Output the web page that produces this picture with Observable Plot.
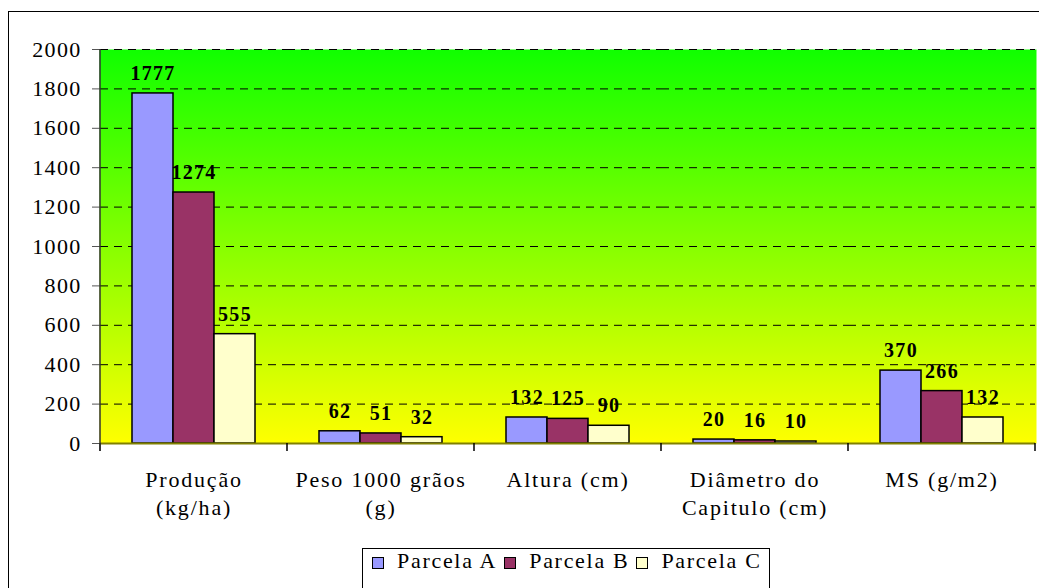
<!DOCTYPE html>
<html>
<head>
<meta charset="utf-8">
<script src="https://cdn.jsdelivr.net/npm/d3@7"></script>
<script src="https://cdn.jsdelivr.net/npm/@observablehq/plot@0.6"></script>
<style>
html, body { margin: 0; padding: 0; background: #fff; width: 1039px; height: 588px; overflow: hidden; }
#wrap { position: relative; width: 1039px; height: 588px; overflow: hidden; font-family: "Liberation Serif", "Times New Roman", Times, serif; }
#border { position: absolute; left: 8px; top: 11px; width: 1200px; height: 800px; border: 1.5px solid #000; box-sizing: border-box; }
#chart { position: absolute; left: 0; top: 0; }
#chart svg, #chart svg text { font-family: "Liberation Serif", "Times New Roman", Times, serif !important; }
#chart svg text { letter-spacing: 1.3px; }
#chart svg g[aria-label="fx-axis tick label"] text { letter-spacing: 1.8px; }
#legend { position: absolute; left: 362px; top: 548px; width: 408px; height: 80px; border: 1px solid #000; box-sizing: border-box; background: #fff;
  font-size: 22px; line-height: 24px; padding-left: 9px; white-space: nowrap; letter-spacing: 1.7px; color: #000; }
#legend .item { display: inline-block; margin-right: 7px; }
#legend .sw { display: inline-block; width: 12px; height: 12px; border: 1px solid #000; box-sizing: border-box; vertical-align: -1px; margin-right: 13px; }
</style>
</head>
<body>
<svg width="0" height="0" style="position:absolute">
  <defs>
    <linearGradient id="bg" x1="0" y1="0" x2="0" y2="1">
      <stop offset="0" stop-color="#10ff00"/>
      <stop offset="1" stop-color="#ffff00"/>
    </linearGradient>
  </defs>
</svg>
<div id="wrap">
  <div id="border"></div>
  <div id="chart"></div>
  <div id="legend"></div>
</div>
<script>
const categories = ["Produção\n(kg/ha)", "Peso 1000 grãos\n(g)", "Altura (cm)", "Diâmetro do\nCapitulo (cm)", "MS (g/m2)"];
const series = ["Parcela A", "Parcela B", "Parcela C"];
const parcelaA = [1777, 62, 132, 20, 370];
const parcelaB = [1274, 51, 125, 16, 266];
const parcelaC = [555, 32, 90, 10, 132];
const seriesColors = ["#9999ff", "#993366", "#ffffcc"];
const yTicks = [0, 200, 400, 600, 800, 1000, 1200, 1400, 1600, 1800, 2000];

const seriesValues = [parcelaA, parcelaB, parcelaC];
const data = categories.flatMap((c, i) =>
  seriesValues.map((vals, j) => ({category: c, series: series[j], value: vals[i]}))
);

const chart = Plot.plot({
  width: 1039,
  height: 540,
  marginTop: 49,
  marginBottom: 97,
  marginLeft: 100,
  marginRight: 4,
  style: {fontSize: "22px", color: "#000", background: "transparent", overflow: "visible"},
  fx: {domain: categories, padding: 0, label: null},
  x: {domain: series, paddingInner: 0, paddingOuter: 0.765, axis: null},
  y: {domain: [0, 2000]},
  color: {domain: series, range: seriesColors},
  marks: [
    Plot.frame({fill: "url(#bg)", stroke: "none", insetLeft: -1, insetRight: -1}),
    Plot.ruleY(yTicks.filter(d => d > 0), {stroke: "#000", strokeDasharray: "8,6", strokeWidth: 1}),
    Plot.barY(data, {fx: "category", x: "series", y: "value", fill: "series", stroke: "#000", strokeWidth: 1.5}),
    Plot.ruleY([0], {stroke: "#808000", strokeWidth: 2}),
    Plot.text(data, {fx: "category", x: "series", y: "value", text: d => String(d.value), dy: -20, fontWeight: "bold", fontSize: 20, fill: "#000"}),
    Plot.axisY({ticks: yTicks, tickSize: 8, tickPadding: 11, fontSize: 22, tickFormat: d3.format("d"), label: null, stroke: "#555", fill: "#000"}),
    Plot.axisFx({anchor: "bottom", tickSize: 0, tickPadding: 23, fontSize: 22, lineHeight: 1.3, label: null, fill: "#000"})
  ]
});

// axis decorations from the library's scales
const fx = chart.scale("fx");
const ys = chart.scale("y");
const [yBottom, yTop] = ys.range;
const svg = d3.select(chart);
const deco = svg.append("g");
const edges = d3.range(fx.domain.length + 1).map(i => fx.range[0] + i * fx.step);
deco.selectAll("line.tk").data(edges).join("line")
  .attr("x1", d => d).attr("x2", d => d)
  .attr("y1", yBottom).attr("y2", yBottom + 8)
  .attr("stroke", "#000").attr("stroke-width", 1.5);
deco.append("line")
  .attr("x1", fx.range[0]).attr("x2", fx.range[0])
  .attr("y1", yTop).attr("y2", yBottom + 8)
  .attr("stroke", "#333").attr("stroke-width", 1.5);

document.getElementById("chart").appendChild(chart);

// legend
const colorScale = chart.scale("color");
const legend = d3.select("#legend");
colorScale.domain.forEach((s, i) => {
  const item = legend.append("span").attr("class", "item");
  item.append("span").attr("class", "sw").style("background", colorScale.range[i]);
  item.append("span").text(s);
});
</script>
</body>
</html>
